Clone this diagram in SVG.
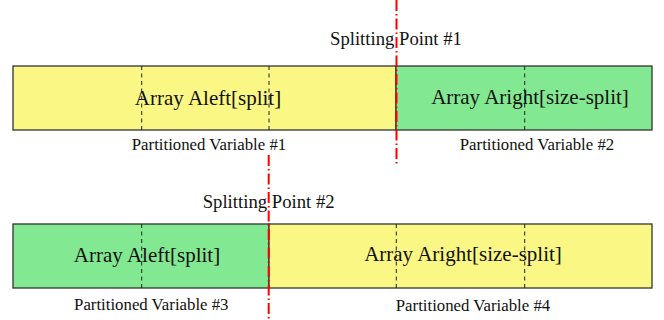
<svg xmlns="http://www.w3.org/2000/svg" width="664" height="320" viewBox="0 0 664 320">
<style>
.bar{stroke:#333;stroke-width:1.3}
.y{fill:#fbf785}
.g{fill:#82e891}
.dash{stroke:#222;stroke-width:1;stroke-dasharray:4 3.5}
.split{stroke:#ff0000;stroke-width:2;stroke-dasharray:11 3 1.5 3}
.big{font-family:"Liberation Serif","Times New Roman",serif;font-size:21px;fill:#111;text-anchor:middle}
.sp{font-family:"Liberation Serif","Times New Roman",serif;font-size:18.7px;fill:#111}
.pv{font-family:"Liberation Serif","Times New Roman",serif;font-size:16.8px;fill:#111;text-anchor:middle}
</style>
<rect width="664" height="320" fill="#fff"/>
<g id="var1">
<rect class="bar y" x="13" y="66" width="383" height="64"/>
<text class="big" x="208" y="105">Array Aleft[split]</text>
</g>
<g id="var2">
<rect class="bar g" x="396" y="66" width="256" height="64"/>
<text class="big" x="530" y="104">Array Aright[size-split]</text>
</g>
<g id="var3">
<rect class="bar g" x="13" y="224" width="256" height="64"/>
<text class="big" x="147" y="262">Array Aleft[split]</text>
</g>
<g id="var4">
<rect class="bar y" x="269" y="224" width="383" height="64"/>
<text class="big" x="463" y="261">Array Aright[size-split]</text>
</g>
<g id="connectors">
<line class="dash" x1="141.7" y1="66" x2="141.7" y2="130"/>
<line class="dash" x1="269" y1="66" x2="269" y2="130"/>
<line class="dash" x1="524.7" y1="66" x2="524.7" y2="130"/>
<line class="dash" x1="141.7" y1="224" x2="141.7" y2="288"/>
<line class="dash" x1="396.3" y1="224" x2="396.3" y2="288"/>
<line class="dash" x1="524.7" y1="224" x2="524.7" y2="288"/>
<line class="split" x1="396.5" y1="0" x2="396.5" y2="165"/>
<line class="split" x1="268.7" y1="155" x2="268.7" y2="320"/>
</g>
<g id="labels">
<text class="sp" x="330" y="45">Splitting Point #1</text>
<text class="sp" x="202.7" y="207.5">Splitting Point #2</text>
<text class="pv" x="209" y="150">Partitioned Variable #1</text>
<text class="pv" x="537" y="149.5">Partitioned Variable #2</text>
<text class="pv" x="151.3" y="310">Partitioned Variable #3</text>
<text class="pv" x="473" y="310.5">Partitioned Variable #4</text>
</g>
</svg>
